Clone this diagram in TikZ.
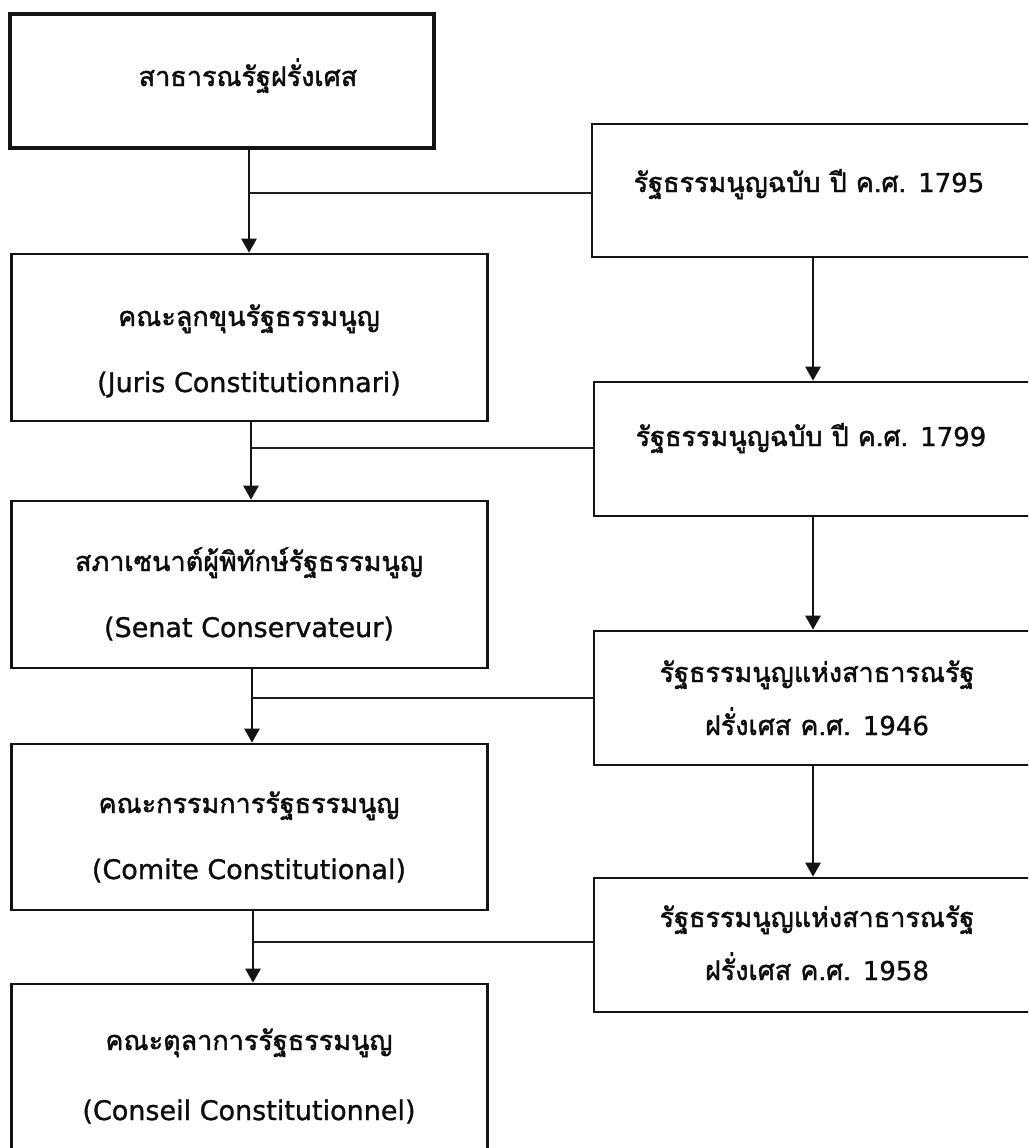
\documentclass[tikz,border=0pt]{standalone}
\usepackage{fontspec}
\setmainfont{Loma}[Script=Thai, FakeBold=1.6]
\newfontfamily\lat{DejaVu Sans}[FakeBold=1.1]
\usetikzlibrary{arrows.meta}
\begin{document}
\begin{tikzpicture}[x=1pt,y=-1pt,
  box/.style={draw=black!92, line width=2.6pt, inner sep=0pt, fill=none},
  topbox/.style={box, line width=4.6pt},
  lbl/.style={inner sep=0pt, font=\fontsize{27}{32}\selectfont, text=black!95},
  latlbl/.style={inner sep=0pt, font=\lat\fontsize{27}{32}\selectfont, text=black!95},
  arr/.style={draw=black!92, line width=2.4pt, -{Triangle[length=14pt,width=15pt]}},
  tie/.style={draw=black!88, line width=2pt}]
\newcommand\yr[1]{{\lat\fontsize{26}{32}\selectfont #1}}
\path[use as bounding box, clip] (0,0) rectangle (1028,1148);
\fill[white] (0,0) rectangle (1028,1148);

% left column
\node[topbox, minimum width=424pt, minimum height=134pt] (top) at (222,81) {};
\node[box, minimum width=476pt, minimum height=167pt] (juris) at (249.5,337.5) {};
\node[box, minimum width=476pt, minimum height=167pt] (senat) at (249.5,584.5) {};
\node[box, minimum width=476pt, minimum height=166pt] (comite) at (249.5,827) {};
\node[box, minimum width=476pt, minimum height=180pt] (conseil) at (249.5,1074) {};

% right column
\node[box, minimum width=442pt, minimum height=133pt] (r1795) at (813,190.5) {};
\node[box, minimum width=440pt, minimum height=134pt] (r1799) at (814,449) {};
\node[box, minimum width=440pt, minimum height=134pt] (r1946) at (814,698) {};
\node[box, minimum width=440pt, minimum height=134pt] (r1958) at (814,945) {};

% labels
\node[lbl, anchor=base] (t-top) at (248,86) {สาธารณรัฐฝรั่งเศส};
\node[lbl, anchor=base] (t-juris1) at (249,326) {คณะลูกขุนรัฐธรรมนูญ};
\node[latlbl, anchor=base] (t-juris2) at (249,392) {(Juris Constitutionnari)};
\node[lbl, anchor=base] (t-senat1) at (249,571) {สภาเซนาต์ผู้พิทักษ์รัฐธรรมนูญ};
\node[latlbl, anchor=base] (t-senat2) at (249,637) {(Senat Conservateur)};
\node[lbl, anchor=base] (t-comite1) at (249,813) {คณะกรรมการรัฐธรรมนูญ};
\node[latlbl, anchor=base] (t-comite2) at (249,879) {(Comite Constitutional)};
\node[lbl, anchor=base] (t-conseil1) at (249,1050) {คณะตุลาการรัฐธรรมนูญ};
\node[latlbl, anchor=base] (t-conseil2) at (249,1120) {(Conseil Constitutionnel)};

\node[lbl, anchor=base] (t-1795) at (809,192) {รัฐธรรมนูญฉบับ ปี ค.ศ. \yr{1795}};
\node[lbl, anchor=base] (t-1799) at (811,446) {รัฐธรรมนูญฉบับ ปี ค.ศ. \yr{1799}};
\node[lbl, anchor=base] (t-1946a) at (817,682) {รัฐธรรมนูญแห่งสาธารณรัฐ};
\node[lbl, anchor=base] (t-1946b) at (817,735) {ฝรั่งเศส ค.ศ. \yr{1946}};
\node[lbl, anchor=base] (t-1958a) at (817,927) {รัฐธรรมนูญแห่งสาธารณรัฐ};
\node[lbl, anchor=base] (t-1958b) at (817,980) {ฝรั่งเศส ค.ศ. \yr{1958}};

% junction points on the left trunk
\coordinate (j1) at (249,193);
\coordinate (j2) at (251,448);
\coordinate (j3) at (252,698);
\coordinate (j4) at (253,942);
\coordinate (rx) at (813,0);

% left trunk arrows
\draw[arr] (top.south -| j1) -- (juris.north -| j1);
\draw[arr] (juris.south -| j2) -- (senat.north -| j2);
\draw[arr] (senat.south -| j3) -- (comite.north -| j3);
\draw[arr] (comite.south -| j4) -- (conseil.north -| j4);

% ties from the constitutions to the trunk
\draw[tie] (r1795.west |- j1) -- (j1);
\draw[tie] (r1799.west |- j2) -- (j2);
\draw[tie] (r1946.west |- j3) -- (j3);
\draw[tie] (r1958.west |- j4) -- (j4);

% right column arrows
\draw[arr] (r1795.south -| rx) -- (r1799.north -| rx);
\draw[arr] (r1799.south -| rx) -- (r1946.north -| rx);
\draw[arr] (r1946.south -| rx) -- (r1958.north -| rx);
\end{tikzpicture}
\end{document}
